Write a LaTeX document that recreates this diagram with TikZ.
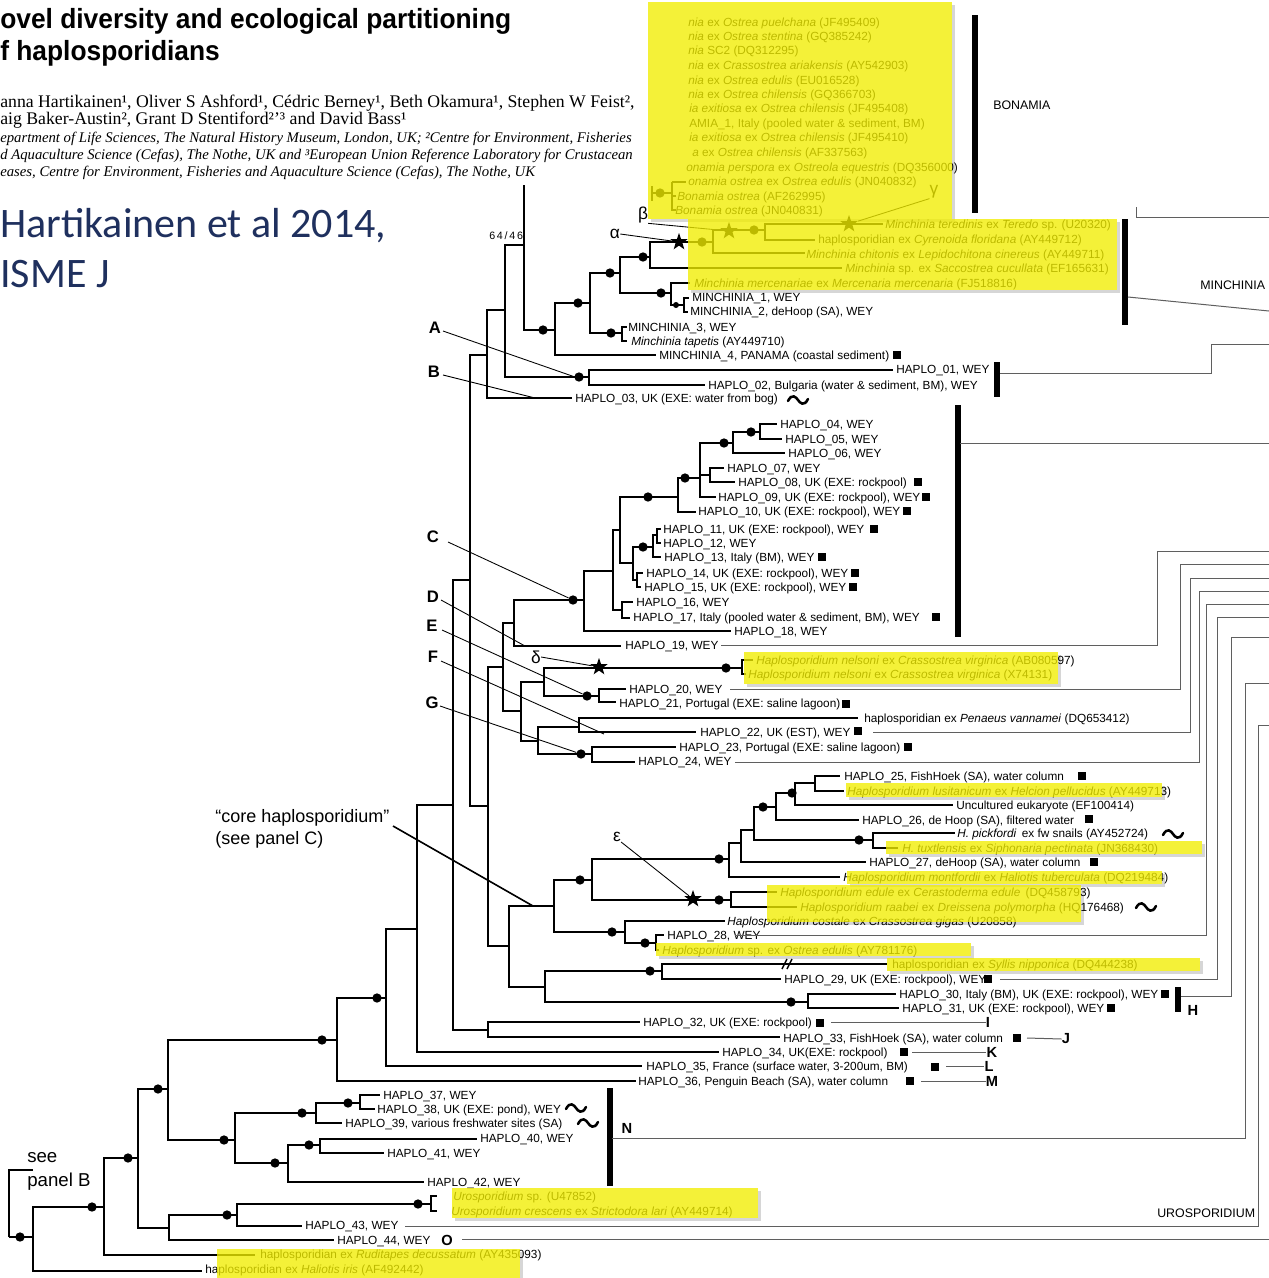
\documentclass[tikz,border=0pt]{standalone}
\usepackage{fontspec}
\setmainfont{Liberation Sans}
\newfontfamily\serifA{Liberation Serif}
\newfontfamily\calib{Carlito}
\newfontfamily\titlef[FakeStretch=0.95]{Liberation Sans}
\usetikzlibrary{shapes.geometric}
\definecolor{navy}{RGB}{31,48,94}
\definecolor{hlyel}{RGB}{242,238,0}
\definecolor{conng}{RGB}{95,95,95}
\newcommand\brs[3]{\draw[tree] (#1) |- (#2); \draw[tree] (#1) |- (#3);}
\newcommand\wavy[2]{\draw[wv] ({#1-10},{#2+1}) .. controls ({#1-6},{#2-7}) and ({#1-2},{#2-3}) .. ({#1},{#2}) .. controls ({#1+2},{#2+3}) and ({#1+6},{#2+7}) .. ({#1+10},{#2-1});}
\newcommand\hlbox[4]{%
  \fill[black,opacity=0.16] ({#1+3},{#4}) rectangle ({#3+3},{#4+3});
  \fill[black,opacity=0.16] ({#3},{#2+3}) rectangle ({#3+3},{#4});
  \fill[hlyel,opacity=0.78] (#1,#2) rectangle (#3,#4);}
\begin{document}
\begin{tikzpicture}[x=0.75pt,y=-0.75pt,
  tree/.style={line width=1.7pt},
  thinl/.style={line width=0.65pt},
  conn/.style={line width=0.75pt, draw=conng},
  cbar/.style={line width=4pt},
  dotn/.style={circle, fill=black, inner sep=0pt, minimum size=7pt},
  starn/.style={star, star points=5, star point ratio=2.5, fill=black, inner sep=0pt, minimum size=13.5pt},
  lab/.style={anchor=west, inner sep=0pt, text height=6.4pt, text depth=0pt, font=\fontsize{8.85}{10}\selectfont},
  sqn/.style={fill=black, inner sep=0pt, minimum size=6.4pt},
  wv/.style={line width=1.9pt, line cap=round},
  bigl/.style={font=\bfseries\fontsize{12.5}{14}\selectfont, inner sep=0pt},
  greek/.style={font=\fontsize{13}{14}\selectfont, inner sep=0pt},
  lettr/.style={font=\bfseries\fontsize{11}{12}\selectfont, inner sep=0pt},
  clab/.style={anchor=west, inner sep=0pt, font=\fontsize{9.3}{10}\selectfont},
]
\useasboundingbox (0,0) rectangle (1269,1278);
\fill[white] (0,0) rectangle (1269,1278);

% ---------------- header ----------------
\node[anchor=base west, inner sep=0pt, font=\titlef\bfseries\fontsize{20.8}{21}\selectfont] (ti2) at (0,28) {ovel diversity and ecological partitioning};
\node[anchor=base west, inner sep=0pt, font=\titlef\bfseries\fontsize{20.8}{21}\selectfont] (ti3) at (0,60) {f haplosporidians};
\node[anchor=base west, inner sep=0pt, font=\serifA\fontsize{13.3}{14}\selectfont] (au1) at (0,107) {anna Hartikainen¹, Oliver S Ashford¹, Cédric Berney¹, Beth Okamura¹, Stephen W Feist²,};
\node[anchor=base west, inner sep=0pt, font=\serifA\fontsize{13.3}{14}\selectfont] (au2) at (0,124) {aig Baker-Austin², Grant D Stentiford²ʼ³ and David Bass¹};
\node[anchor=base west, inner sep=0pt, font=\serifA\itshape\fontsize{11.05}{12}\selectfont] (af1) at (0,142) {epartment of Life Sciences, The Natural History Museum, London, UK; ²Centre for Environment, Fisheries};
\node[anchor=base west, inner sep=0pt, font=\serifA\itshape\fontsize{11.05}{12}\selectfont] (af2) at (0,159) {d Aquaculture Science (Cefas), The Nothe, UK and ³European Union Reference Laboratory for Crustacean};
\node[anchor=base west, inner sep=0pt, font=\serifA\itshape\fontsize{11.05}{12}\selectfont] (af3) at (0,176) {eases, Centre for Environment, Fisheries and Aquaculture Science (Cefas), The Nothe, UK};
\node[anchor=base west, inner sep=0pt, text=navy, font=\calib\fontsize{31.5}{32}\selectfont] (cit1) at (0,237) {Hartikainen et al 2014,};
\node[anchor=base west, inner sep=0pt, text=navy, font=\calib\fontsize{31.5}{32}\selectfont] (cit2) at (0,287) {ISME J};

% ---------------- tree coordinates ----------------
\coordinate (root) at (9,1237);
\coordinate (pb) at (33,1170);
\coordinate (n33) at (33,1237);
\coordinate (ehal) at (202,1271);
\coordinate (n104) at (104,1207);
\coordinate (erud) at (255,1255);
\coordinate (n138) at (138,1158);
\coordinate (n168) at (168,1089);
\coordinate (n169) at (169,1228);
\coordinate (n337) at (337,1040);
\coordinate (n235) at (235,1140);
\coordinate (e36) at (636,1081);
\coordinate (n386) at (386,998);
\coordinate (e35) at (642,1066);
\coordinate (n417) at (417,929);
\coordinate (e34) at (719,1052);
\coordinate (n453) at (453,805);
\coordinate (n488b) at (488,1030);
\coordinate (e32) at (640,1022);
\coordinate (e33) at (780,1037);
\coordinate (n470) at (470,580);
\coordinate (n487) at (487,355);
\coordinate (n488) at (488,806);
\coordinate (n505) at (505,310);
\coordinate (e03) at (572,398);
\coordinate (n524) at (524,245);
\coordinate (ntop) at (524,185);
\coordinate (n589) at (589,377);
\coordinate (e01) at (893,370);
\coordinate (e02) at (705,385);
\coordinate (n555) at (555,330);
\coordinate (em4) at (656,355);
\coordinate (n590) at (590,303);
\coordinate (n620) at (620,273);
\coordinate (n622) at (622,333);
\coordinate (em3) at (627,327);
\coordinate (etap) at (627,341);
\coordinate (n650) at (650,257);
\coordinate (n671) at (671,293);
\coordinate (n713) at (713,242);
\coordinate (esac) at (842,268);
\coordinate (n765) at (765,230);
\coordinate (echi) at (805,253);
\coordinate (eter) at (883,224);
\coordinate (ecyr) at (815,240);
\coordinate (emer) at (690,283);
\coordinate (n684) at (684,305);
\coordinate (em1) at (689,298);
\coordinate (em2) at (688,312);
\coordinate (n503) at (503,667);
\coordinate (n509) at (509,946);
\coordinate (n514) at (514,623);
\coordinate (n521) at (521,711);
\coordinate (n584) at (584,600);
\coordinate (e19) at (621,646);
\coordinate (n613) at (613,571);
\coordinate (e18) at (731,631);
\coordinate (n620b) at (620,530);
\coordinate (n622b) at (622,610);
\coordinate (e16) at (633,602);
\coordinate (e17) at (630,618);
\coordinate (n678) at (678,497);
\coordinate (n633) at (633,563);
\coordinate (n700) at (700,478);
\coordinate (e10) at (696,512);
\coordinate (n733) at (733,443);
\coordinate (n710) at (710,475);
\coordinate (e09) at (716,497);
\coordinate (n760) at (760,432);
\coordinate (e06) at (785,453);
\coordinate (e04) at (777,424);
\coordinate (e05) at (782,439);
\coordinate (e07) at (724,468);
\coordinate (e08) at (735,482);
\coordinate (n653) at (653,547);
\coordinate (n637) at (637,580);
\coordinate (n657) at (657,535);
\coordinate (e13) at (661,557);
\coordinate (e11) at (661,529);
\coordinate (e12) at (661,543);
\coordinate (e14) at (643,573);
\coordinate (e15) at (641,587);
\coordinate (n544) at (544,682);
\coordinate (n538) at (538,741);
\coordinate (n742) at (742,668);
\coordinate (n599) at (599,696);
\coordinate (enel1) at (753,660);
\coordinate (enel2) at (746,674);
\coordinate (e20) at (626,689);
\coordinate (e21) at (616,702);
\coordinate (n579) at (579,727);
\coordinate (n592b) at (592,754);
\coordinate (epen) at (858,718);
\coordinate (e22) at (696,732);
\coordinate (e23) at (676,747);
\coordinate (e24) at (635,762);
\coordinate (n554) at (554,906);
\coordinate (n545) at (545,987);
\coordinate (n592) at (592,880);
\coordinate (n625) at (625,932);
\coordinate (n729) at (729,859);
\coordinate (n731) at (731,900);
\coordinate (eedu) at (777,892);
\coordinate (erab) at (797,907);
\coordinate (n741) at (741,843);
\coordinate (emon) at (840,877);
\coordinate (n754) at (754,830);
\coordinate (e27) at (866,862);
\coordinate (n776) at (776,807);
\coordinate (n873) at (873,840);
\coordinate (epic) at (955,833);
\coordinate (etux) at (898,848);
\coordinate (n795) at (795,793);
\coordinate (e26) at (859,820);
\coordinate (n815) at (815,783);
\coordinate (eunc) at (953,805);
\coordinate (e25) at (840,776);
\coordinate (elus) at (844,791);
\coordinate (ecos) at (725,921);
\coordinate (n656) at (656,943);
\coordinate (e28) at (664,935);
\coordinate (eost) at (659,950);
\coordinate (n662) at (662,971);
\coordinate (n808) at (808,1002);
\coordinate (esyl) at (887,964);
\coordinate (e29) at (781,979);
\coordinate (e30) at (896,994);
\coordinate (e31) at (899,1008);
\coordinate (n237) at (237,1215);
\coordinate (e44) at (334,1240);
\coordinate (n431) at (431,1204);
\coordinate (e43) at (302,1226);
\coordinate (eu1) at (437,1196);
\coordinate (eu2) at (437,1211);
\coordinate (n316) at (316,1113);
\coordinate (n288) at (288,1163);
\coordinate (n360) at (360,1103);
\coordinate (e39) at (342,1123);
\coordinate (e37) at (380,1095);
\coordinate (e38) at (375,1109);
\coordinate (n320) at (320,1145);
\coordinate (e42) at (424,1182);
\coordinate (e40) at (477,1139);
\coordinate (e41) at (384,1153);

% ---------------- branches ----------------
\brs{root}{pb}{n33}
\brs{n33}{n104}{ehal}
\brs{n104}{n138}{erud}
\brs{n138}{n168}{n169}
\brs{n168}{n337}{n235}
\brs{n337}{n386}{e36}
\brs{n386}{n417}{e35}
\brs{n417}{n453}{e34}
\brs{n453}{n470}{n488b}
\brs{n488b}{e32}{e33}
\brs{n470}{n487}{n488}
\brs{n487}{n505}{e03}
\brs{n505}{n524}{n589}
\brs{n524}{ntop}{n555}
\brs{n589}{e01}{e02}
\brs{n555}{n590}{em4}
\brs{n590}{n620}{n622}
\brs{n622}{em3}{etap}
\brs{n620}{n650}{n671}
\brs{n650}{n713}{esac}
\brs{n713}{n765}{echi}
\brs{n765}{eter}{ecyr}
\brs{n671}{emer}{n684}
\brs{n684}{em1}{em2}
\brs{n488}{n503}{n509}
\brs{n503}{n514}{n521}
\brs{n514}{n584}{e19}
\brs{n584}{n613}{e18}
\brs{n613}{n620b}{n622b}
\brs{n622b}{e16}{e17}
\brs{n620b}{n678}{n633}
\brs{n678}{n700}{e10}
\brs{n700}{n733}{n710}
\draw[tree] (n700) |- (e09);
\brs{n733}{n760}{e06}
\brs{n760}{e04}{e05}
\brs{n710}{e07}{e08}
\brs{n633}{n653}{n637}
\brs{n653}{n657}{e13}
\brs{n657}{e11}{e12}
\brs{n637}{e14}{e15}
\brs{n521}{n544}{n538}
\brs{n544}{n742}{n599}
\brs{n742}{enel1}{enel2}
\brs{n599}{e20}{e21}
\brs{n538}{n579}{n592b}
\brs{n579}{epen}{e22}
\brs{n592b}{e23}{e24}
\brs{n509}{n554}{n545}
\brs{n554}{n592}{n625}
\brs{n592}{n729}{n731}
\brs{n731}{eedu}{erab}
\brs{n729}{n741}{emon}
\brs{n741}{n754}{e27}
\brs{n754}{n776}{n873}
\brs{n873}{epic}{etux}
\brs{n776}{n795}{e26}
\brs{n795}{n815}{eunc}
\brs{n815}{e25}{elus}
\brs{n625}{ecos}{n656}
\brs{n656}{e28}{eost}
\brs{n545}{n662}{n808}
\brs{n662}{esyl}{e29}
\brs{n808}{e30}{e31}
\brs{n169}{n237}{e44}
\brs{n237}{n431}{e43}
\brs{n431}{eu1}{eu2}
\brs{n235}{n316}{n288}
\brs{n316}{n360}{e39}
\brs{n360}{e37}{e38}
\brs{n288}{n320}{e42}
\brs{n320}{e40}{e41}
% bonamia fragment
\coordinate (bA) at (652,193);
\coordinate (bB) at (672,193);
\coordinate (bo0) at (686,182);
\coordinate (bo1) at (676,196);
\coordinate (bo2) at (676,210);
\draw[tree] (652,186) -- (652,201);
\draw[tree] (bA) -- (bB);
\draw[tree] (672,182) |- (bo2);
\draw[tree] (672,196) -- (bo1);
\draw[tree] (672,182) -- (bo0);
% syllis break
\draw[line width=1.1pt] (782,969) -- (787,959) (787,969) -- (792,959);

% ---------------- dots ----------------
\foreach \p [count=\i] in {(20,1237),(92,1207),(128,1158),(158,1089),(224,1140),(322,1040),(377,998),(543,330),(578,303),(610,273),(643,257),(702,242),(754,230),(661,293),(611,333),(579,377),(573,600),(648,497),(685,478),(724,443),(751,432),(643,547),(726,668),(587,696),(581,754),(580,880),(719,859),(719,900),(612,932),(645,943),(650,971),(791,1002),(418,1204),(227,1215),(302,1113),(348,1103),(275,1163),(309,1145),(792,793),(763,807),(859,840),(660,193)}
  \node[dotn] (dot\i) at \p {};
\node[dotn, minimum size=4.5pt] (dotsm) at (676,305) {};

% ---------------- stars ----------------
\node[starn] (salpha) at (679,242) {};
\node[starn] (sbeta) at (729,231) {};
\node[starn] (sgamma) at (849,224) {};
\node[starn] (sdelta) at (599,667) {};
\node[starn] (seps) at (693,899) {};

% ---------------- greek + pointers ----------------
\node[greek] (lalpha) at (615,234) {α};
\node[greek] (lbeta) at (643,215) {β};
\node[greek] (lgamma) at (934,192) {γ};
\node[greek] (ldelta) at (536,657) {δ};
\node[greek] (leps) at (617,837) {ε};
\draw[thinl] (lalpha.east) -- (salpha);
\draw[thinl] (lbeta.south east) -- (sbeta);
\draw[thinl] (lgamma.south west) -- (sgamma);
\draw[thinl] (ldelta.east) -- (sdelta);
\draw[thinl] (leps.south east) -- (seps);

\node[bigl] (LA) at (435,328) {A};
\node[bigl] (LB) at (434,372) {B};
\node[bigl] (LC) at (433,537) {C};
\node[bigl] (LD) at (433,597) {D};
\node[bigl] (LE) at (432,626) {E};
\node[bigl] (LF) at (433,657) {F};
\node[bigl] (LG) at (432,703) {G};
\coordinate (pA) at (575,377);
\coordinate (pB) at (535,398);
\coordinate (pD) at (525,646);
\coordinate (pF) at (604,734);
\draw[thinl] (443,331) -- (pA);
\draw[thinl] (443,375) -- (pB);
\draw[thinl] (448,542) -- (dot17);
\draw[thinl] (441,600) -- (pD);
\draw[thinl] (442,630) -- (dot24);
\draw[thinl] (441,661) -- (pF);
\draw[thinl] (440,706) -- (dot25);

\node[anchor=west, inner sep=0pt, font=\fontsize{13.5}{16}\selectfont, align=left] (core) at (215,829) {“core haplosporidium”\\(see panel C)};
\coordinate (pcore) at (533,906);
\draw[line width=1.2pt] (393,826) -- (pcore);
\node[anchor=west, inner sep=0pt, font=\fontsize{8}{8}\selectfont] (sup) at (489,236) {6\,4\,/\,4\,6};

\node[anchor=west, inner sep=0pt, font=\fontsize{14}{16}\selectfont] (see1) at (27,1158) {see};
\node[anchor=west, inner sep=0pt, font=\fontsize{14}{16}\selectfont] (see2) at (27,1182) {panel B};

% ---------------- leaf labels ----------------
\node[lab] (b01) at (688,22) {\textit{nia} ex \textit{Ostrea puelchana} (JF495409)};
\node[lab] (b02) at (688,36) {\textit{nia} ex \textit{Ostrea stentina} (GQ385242)};
\node[lab] (b03) at (688,50) {\textit{nia} SC2 (DQ312295)};
\node[lab] (b04) at (688,65) {\textit{nia} ex \textit{Crassostrea ariakensis} (AY542903)};
\node[lab] (b05) at (688,80) {\textit{nia} ex \textit{Ostrea edulis} (EU016528)};
\node[lab] (b06) at (688,94) {\textit{nia} ex \textit{Ostrea chilensis} (GQ366703)};
\node[lab] (b07) at (689,108) {\textit{ia exitiosa} ex \textit{Ostrea chilensis} (JF495408)};
\node[lab] (b08) at (689,123) {AMIA\_1, Italy (pooled water \& sediment, BM)};
\node[lab] (b09) at (689,137) {\textit{ia exitiosa} ex \textit{Ostrea chilensis} (JF495410)};
\node[lab] (b10) at (692,152) {\textit{a} ex \textit{Ostrea chilensis} (AF337563)};
\node[lab] (b11) at (686,167) {\textit{onamia perspora} ex \textit{Ostreola equestris} (DQ356000)};
\node[lab] (b12) at (688,181) {\textit{onamia ostrea} ex \textit{Ostrea edulis} (JN040832)};
\node[lab] (b13) at (677,196) {\textit{Bonamia ostrea} (AF262995)};
\node[lab] (b14) at (675,210) {\textit{Bonamia ostrea} (JN040831)};

\node[lab] (mter) at (885,224) {\textit{Minchinia teredinis} ex \textit{Teredo} sp. (U20320)};
\node[lab] (mcyr) at (818,239) {haplosporidian ex \textit{Cyrenoida floridana} (AY449712)};
\node[lab] (mchi) at (806,254) {\textit{Minchinia chitonis} ex \textit{Lepidochitona cinereus} (AY449711)};
\node[lab] (msac) at (845,268) {\textit{Minchinia} sp. ex \textit{Saccostrea cucullata} (EF165631)};
\node[lab] (mmer) at (694,283) {\textit{Minchinia mercenariae} ex \textit{Mercenaria mercenaria} (FJ518816)};
\node[lab] (mi1) at (692,297) {MINCHINIA\_1, WEY};
\node[lab] (mi2) at (690,311) {MINCHINIA\_2, deHoop (SA), WEY};
\node[lab] (mi3) at (628,327) {MINCHINIA\_3, WEY};
\node[lab] (mtap) at (631,341) {\textit{Minchinia tapetis} (AY449710)};
\node[lab] (mi4) at (659,355) {MINCHINIA\_4, PANAMA (coastal sediment)};

\node[lab] (t01) at (896,369) {HAPLO\_01, WEY};
\node[lab] (t02) at (708,385) {HAPLO\_02, Bulgaria (water \& sediment, BM), WEY};
\node[lab] (t03) at (575,398) {HAPLO\_03, UK (EXE: water from bog)};
\node[lab] (t04) at (780,424) {HAPLO\_04, WEY};
\node[lab] (t05) at (785,439) {HAPLO\_05, WEY};
\node[lab] (t06) at (788,453) {HAPLO\_06, WEY};
\node[lab] (t07) at (727,468) {HAPLO\_07, WEY};
\node[lab] (t08) at (738,482) {HAPLO\_08, UK (EXE: rockpool)};
\node[lab] (t09) at (718,497) {HAPLO\_09, UK (EXE: rockpool), WEY};
\node[lab] (t10) at (698,511) {HAPLO\_10, UK (EXE: rockpool), WEY};
\node[lab] (t11) at (663,529) {HAPLO\_11, UK (EXE: rockpool), WEY};
\node[lab] (t12) at (663,543) {HAPLO\_12, WEY};
\node[lab] (t13) at (664,557) {HAPLO\_13, Italy (BM), WEY};
\node[lab] (t14) at (646,573) {HAPLO\_14, UK (EXE: rockpool), WEY};
\node[lab] (t15) at (644,587) {HAPLO\_15, UK (EXE: rockpool), WEY};
\node[lab] (t16) at (636,602) {HAPLO\_16, WEY};
\node[lab] (t17) at (633,617) {HAPLO\_17, Italy (pooled water \& sediment, BM), WEY};
\node[lab] (t18) at (734,631) {HAPLO\_18, WEY};
\node[lab] (t19) at (625,645) {HAPLO\_19, WEY};
\node[lab] (nel1) at (756,660) {\textit{Haplosporidium nelsoni} ex \textit{Crassostrea virginica} (AB080597)};
\node[lab] (nel2) at (748,674) {\textit{Haplosporidium nelsoni} ex \textit{Crassostrea virginica} (X74131)};
\node[lab] (t20) at (629,689) {HAPLO\_20, WEY};
\node[lab] (t21) at (619,703) {HAPLO\_21, Portugal (EXE: saline lagoon)};
\node[lab] (pen) at (864,718) {haplosporidian ex \textit{Penaeus vannamei} (DQ653412)};
\node[lab] (t22) at (700,732) {HAPLO\_22, UK (EST), WEY};
\node[lab] (t23) at (679,747) {HAPLO\_23, Portugal (EXE: saline lagoon)};
\node[lab] (t24) at (638,761) {HAPLO\_24, WEY};
\node[lab] (t25) at (844,776) {HAPLO\_25, FishHoek (SA), water column};
\node[lab] (lus) at (847,791) {\textit{Haplosporidium lusitanicum} ex \textit{Helcion pellucidus} (AY449713)};
\node[lab] (unc) at (956,805) {Uncultured eukaryote (EF100414)};
\node[lab] (t26) at (862,820) {HAPLO\_26, de Hoop (SA), filtered water};
\node[lab] (pic) at (957,833) {\textit{H. pickfordi}\, ex fw snails (AY452724)};
\node[lab] (tux) at (902,848) {\textit{H. tuxtlensis} ex \textit{Siphonaria pectinata} (JN368430)};
\node[lab] (t27) at (869,862) {HAPLO\_27, deHoop (SA), water column};
\node[lab] (mon) at (843,877) {\textit{Haplosporidium montfordii} ex \textit{Haliotis tuberculata} (DQ219484)};
\node[lab] (edu) at (780,892) {\textit{Haplosporidium edule} ex \textit{Cerastoderma edule}\, (DQ458793)};
\node[lab] (rab) at (800,907) {\textit{Haplosporidium raabei} ex \textit{Dreissena polymorpha} (HQ176468)};
\node[lab] (cos) at (727,921) {\textit{Haplosporidium costale} ex \textit{Crassostrea gigas} (U20858)};
\node[lab] (t28) at (667,935) {HAPLO\_28, WEY};
\node[lab] (ost) at (662,950) {\textit{Haplosporidium} sp. ex \textit{Ostrea edulis} (AY781176)};
\node[lab] (syl) at (892,964) {haplosporidian ex \textit{Syllis nipponica} (DQ444238)};
\node[lab] (t29) at (784,979) {HAPLO\_29, UK (EXE: rockpool), WEY};
\node[lab] (t30) at (899,994) {HAPLO\_30, Italy (BM), UK (EXE: rockpool), WEY};
\node[lab] (t31) at (902,1008) {HAPLO\_31, UK (EXE: rockpool), WEY};
\node[lab] (t32) at (643,1022) {HAPLO\_32, UK (EXE: rockpool)};
\node[lab] (t33) at (783,1038) {HAPLO\_33, FishHoek (SA), water column};
\node[lab] (t34) at (722,1052) {HAPLO\_34, UK(EXE: rockpool)};
\node[lab] (t35) at (646,1066) {HAPLO\_35, France (surface water, 3-200um, BM)};
\node[lab] (t36) at (638,1081) {HAPLO\_36, Penguin Beach (SA), water column};
\node[lab] (t37) at (383,1095) {HAPLO\_37, WEY};
\node[lab] (t38) at (377,1109) {HAPLO\_38, UK (EXE: pond), WEY};
\node[lab] (t39) at (345,1123) {HAPLO\_39, various freshwater sites (SA)};
\node[lab] (t40) at (480,1138) {HAPLO\_40, WEY};
\node[lab] (t41) at (387,1153) {HAPLO\_41, WEY};
\node[lab] (t42) at (427,1182) {HAPLO\_42, WEY};
\node[lab] (uro1) at (453,1196) {\textit{Urosporidium} sp. (U47852)};
\node[lab] (uro2) at (451,1211) {\textit{Urosporidium crescens} ex \textit{Strictodora lari} (AY449714)};
\node[lab] (t43) at (305,1225) {HAPLO\_43, WEY};
\node[lab] (t44) at (337,1240) {HAPLO\_44, WEY};
\node[lab] (rud) at (260,1254) {haplosporidian ex \textit{Ruditapes decussatum} (AY435093)};
\node[lab] (hal) at (205,1269) {haplosporidian ex \textit{Haliotis iris} (AF492442)};

% ---------------- squares ----------------
\foreach \p [count=\i] in {(897,355),(918,482),(926,497),(907,511),(874,529),(822,557),(855,573),(853,587),(936,617),(846,704),(858,731),(908,747),(1082,776),(1089,819),(1094,862),(988,979),(1165,994),(1111,1008),(820,1023),(1017,1038),(904,1052),(935,1067),(910,1081)}
  \node[sqn] (sq\i) at \p {};

% ---------------- waves ----------------
\wavy{798}{400}
\wavy{1173}{834}
\wavy{1146}{907}
\wavy{576}{1108}
\wavy{588}{1123}

% ---------------- clade bars & labels ----------------
\draw[cbar] (975,15) -- (975,213);
\draw[cbar] (1125,219) -- (1125,325);
\draw[cbar] (997,362) -- (997,397);
\draw[cbar] (958,405) -- (958,637);
\draw[cbar] (1178,987) -- (1178,1012);
\draw[cbar] (610,1088) -- (610,1186);
\node[clab] (gbon) at (993,105) {BONAMIA};
\node[clab] (gmin) at (1200,285) {MINCHINIA};
\node[clab] (guro) at (1157,1213) {UROSPORIDIUM};
\node[lettr] (LH) at (1193,1010) {H};
\node[lettr] (LN) at (627,1128) {N};
\node[lettr] (LO) at (447,1240) {O};
\node[lettr] (LI) at (988,1022) {I};
\node[lettr] (LJ) at (1066,1039) {J};
\node[lettr] (LK) at (992,1052) {K};
\node[lettr] (LL) at (989,1066) {L};
\node[lettr] (LM) at (992,1081) {M};

% ---------------- connectors ----------------
\draw[conn] (1136,207) |- (1269,217);
\draw[conn] (1128,297) -- (1269,311);
\draw[conn] (1000,373) -| (1211,344) -- (1269,344);
\draw[conn] (960,443) -- (1269,443);
\draw[conn] (721,645) -| (1157,551) -- (1269,551);
\draw[conn] (730,689) -| (1180,564) -- (1269,564);
\draw[conn] (873,732) -| (1190,578) -- (1269,578);
\draw[conn] (735,762) -| (1199,591) -- (1269,591);
\draw[conn] (735,935) -| (1206,604) -- (1269,604);
\draw[conn] (1000,979) -| (1217,617) -- (1269,617);
\draw[conn] (1181,996) -| (1231,637) -- (1269,637);
\draw[conn] (612,1138) -| (1245,683) -- (1269,683);
\draw[conn] (405,1226) -| (1258,725) -- (1269,725);
\draw[conn] (462,1239) -- (1269,1239);
\draw[conn] (831,1022) -- (LI.west);
\draw[conn] (1027,1038) -- (LJ.west);
\draw[conn] (912,1052) -- (LK.west);
\draw[conn] (946,1066) -- (LL.west);
\draw[conn] (921,1081) -- (LM.west);

% ---------------- highlight boxes ----------------
\hlbox{648}{2}{952}{219}
\hlbox{688}{219}{1117}{290}
\hlbox{744}{652}{1058}{684}
\hlbox{846}{783}{1162}{797}
\hlbox{886}{841}{1202}{854}
\hlbox{847}{871}{1162}{884}
\hlbox{767}{885}{1081}{922}
\hlbox{656}{943}{971}{956}
\hlbox{887}{958}{1200}{971}
\hlbox{452}{1188}{758}{1218}
\hlbox{217}{1249}{520}{1278}
\end{tikzpicture}
\end{document}
